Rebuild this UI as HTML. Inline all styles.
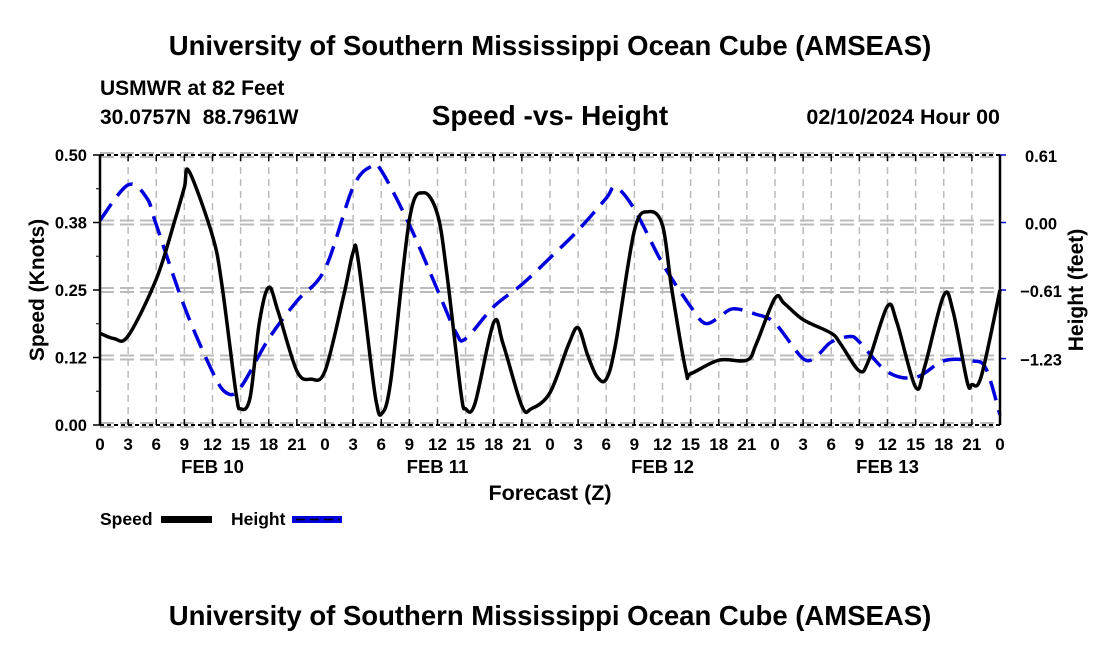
<!DOCTYPE html>
<html><head><meta charset="utf-8"><style>
body{margin:0;background:#fff;}
svg{display:block;font-family:"Liberation Sans",Arial,sans-serif;font-weight:bold;}
text{white-space:pre;}
</style></head><body>
<svg id="chart" width="1100" height="650" viewBox="0 0 1100 650">
<text x="550" y="55" text-anchor="middle" font-size="27.5">University of Southern Mississippi Ocean Cube (AMSEAS)</text>
<text x="100" y="95" font-size="21">USMWR at 82 Feet</text>
<text x="100" y="124" font-size="21">30.0757N  88.7961W</text>
<text x="550" y="125" text-anchor="middle" font-size="28">Speed -vs- Height</text>
<text x="1000" y="124" text-anchor="end" font-size="21.5">02/10/2024 Hour 00</text>
<g id="grid"></g>
<g id="series"></g>
<g id="axes"></g>
<text x="550" y="500" text-anchor="middle" font-size="21.5">Forecast (Z)</text>
<text transform="translate(44,290) rotate(-90)" text-anchor="middle" font-size="21">Speed (Knots)</text>
<text transform="translate(1083,290) rotate(-90)" text-anchor="middle" font-size="21">Height (feet)</text>
<g>
<text x="100" y="525" font-size="17.5">Speed</text>
<rect x="161" y="516" width="51" height="7" fill="#000"/>
<text x="231" y="525" font-size="17.5">Height</text>
<rect x="292" y="516" width="50" height="7" fill="#0000dd"/>
<line x1="296" y1="519.5" x2="340" y2="519.5" stroke="#000" stroke-width="1.5" stroke-dasharray="9,5"/>
</g>
<text x="550" y="625" text-anchor="middle" font-size="27.5">University of Southern Mississippi Ocean Cube (AMSEAS)</text>
</svg>
<script>
const speedHours=[0,1.5,3,6,8,9,9.5,12,13,14.5,15,16,17,18,19,21,22.5,24,26,27,27.5,29,29.5,30,31,33,34.5,36,37,38.5,39,40,42,43,45,46,48,50,51,52,53,54,55,57,58.5,60,61,62.5,63,66,69,70,72,73,75,78,79,81,82,84,85,87,88,90,91,92.5,93,94,96];
const speedValues=[0.17,0.16,0.165,0.27,0.38,0.44,0.47,0.35,0.26,0.06,0.03,0.05,0.19,0.255,0.21,0.1,0.085,0.1,0.24,0.32,0.31,0.1,0.04,0.02,0.08,0.38,0.43,0.39,0.28,0.06,0.03,0.04,0.19,0.15,0.035,0.03,0.06,0.15,0.18,0.13,0.09,0.085,0.15,0.36,0.395,0.37,0.25,0.1,0.095,0.12,0.12,0.15,0.235,0.225,0.195,0.17,0.15,0.1,0.12,0.22,0.19,0.07,0.11,0.24,0.21,0.08,0.075,0.09,0.25];
const heightHours=[0,3,5,6,9,12,13.5,15,18,21,24,27,29,30,33,36,38,39,42,45,48,51,54,55,57,60,63,64.5,66,67.5,70,72,75,76.5,78,80,81,84,87,90,93,94.5,96];
const heightValues=[0.02,0.34,0.22,-0.02,-0.76,-1.35,-1.54,-1.49,-1.05,-0.71,-0.42,0.32,0.51,0.47,-0.02,-0.61,-1.00,-1.05,-0.76,-0.56,-0.32,-0.07,0.22,0.32,0.12,-0.37,-0.76,-0.91,-0.86,-0.78,-0.83,-0.91,-1.23,-1.20,-1.08,-1.03,-1.08,-1.35,-1.40,-1.25,-1.25,-1.32,-1.74];
const speedTicks=[0,0.125,0.25,0.375,0.5];
const speedTickLabels=["0.00","0.12","0.25","0.38","0.50"];
const heightTicks=[0.61,0,-0.61,-1.23];
const heightTickLabels=["0.61","0.00","\u22120.61","\u22121.23"];
const hourTickLabels=["0","3","6","9","12","15","18","21"];
const dayLabels=["FEB 10","FEB 11","FEB 12","FEB 13"];

const X0=100,X1=1000,Y0=425,Y1=155;
const xs=h=>X0+(X1-X0)*h/96;
const ys=v=>Y0-(Y0-Y1)*v/0.5;
const yh=v=>ys(0.375+(v/0.61)*0.125);
const NS='http://www.w3.org/2000/svg';
function mk(tag,attrs,parent){const e=document.createElementNS(NS,tag);for(const k in attrs)e.setAttribute(k,attrs[k]);parent.appendChild(e);return e;}
const grid=document.getElementById('grid'),axes=document.getElementById('axes'),series=document.getElementById('series');
for(let h=0;h<=96;h+=3){
  const l=mk('line',{x1:xs(h),x2:xs(h),y1:Y1,y2:Y0,stroke:'#bbb','stroke-width':1.5,'stroke-dasharray':'7,5'},grid);
  
  
  const t=mk('text',{x:xs(h),y:450,'text-anchor':'middle','font-size':17},axes);
  t.textContent=hourTickLabels[(h/3)%8];
  
  
  mk('line',{x1:xs(h),x2:xs(h),y1:Y0,y2:Y0-6,stroke:'#000','stroke-width':1.5},axes);
  mk('line',{x1:xs(h),x2:xs(h),y1:Y1,y2:Y1+6,stroke:'#000','stroke-width':1.5},axes);
}
dayLabels.forEach((d,i)=>{
  const t=mk('text',{x:xs(12+24*i),y:473,'text-anchor':'middle','font-size':18.5},axes);
  t.textContent=d;
  
  
});
speedTicks.forEach((v,i)=>{
  [-2,2].forEach(o=>{mk('line',{x1:X0,x2:X1,y1:ys(v)+o,y2:ys(v)+o,stroke:'#bbb','stroke-width':2,'stroke-dasharray':'14,6'},grid);});
  const t=mk('text',{x:87,y:ys(v)+6,'text-anchor':'end','font-size':16.5},axes);
  t.textContent=speedTickLabels[i];
  
  
  mk('line',{x1:X0-7,x2:X0,y1:ys(v),y2:ys(v),stroke:'#000','stroke-width':1.5},axes);
});
for(let v=0.0625;v<0.5;v+=0.125){mk('line',{x1:X0-4,x2:X0,y1:ys(v),y2:ys(v),stroke:'#000','stroke-width':1},axes);}
heightTicks.forEach((v,i)=>{
  const t=mk('text',{x:1041,y:yh(v)+7,'text-anchor':'middle','font-size':16.5},axes);
  t.textContent=heightTickLabels[i];
  
  
  mk('line',{x1:X1,x2:X1+6,y1:yh(v),y2:yh(v),stroke:'#0000dd','stroke-width':1.5},axes);
});
mk('line',{x1:X0,x2:X0,y1:Y1,y2:Y0,stroke:'#000','stroke-width':2.5},axes);
mk('line',{x1:X1,x2:X1,y1:Y1,y2:Y0,stroke:'#000','stroke-width':2.5},axes);
mk('line',{x1:X0,x2:X1,y1:Y0,y2:Y0,stroke:'#000','stroke-width':2,'stroke-dasharray':'4,3'},axes);
mk('line',{x1:X0,x2:X1,y1:Y1,y2:Y1,stroke:'#000','stroke-width':2,'stroke-dasharray':'4,3'},axes);
function smooth(pts){
  let d='M'+pts[0][0]+','+pts[0][1];
  for(let i=0;i<pts.length-1;i++){
    const p0=pts[Math.max(0,i-1)],p1=pts[i],p2=pts[i+1],p3=pts[Math.min(pts.length-1,i+2)];
    const c1=[p1[0]+(p2[0]-p0[0])/6,p1[1]+(p2[1]-p0[1])/6],c2=[p2[0]-(p3[0]-p1[0])/6,p2[1]-(p3[1]-p1[1])/6];
    d+=' C'+c1+' '+c2+' '+p2;
  }
  return d;
}
const hp=mk('path',{d:smooth(heightHours.map((h,i)=>[xs(h),yh(heightValues[i])])),fill:'none',stroke:'#0000dd','stroke-width':3.5,'stroke-dasharray':'20,10'},series);


const sp=mk('path',{d:smooth(speedHours.map((h,i)=>[xs(h),ys(speedValues[i])])),fill:'none',stroke:'#000','stroke-width':3.5,'stroke-linejoin':'round'},series);


</script>
</body></html>
